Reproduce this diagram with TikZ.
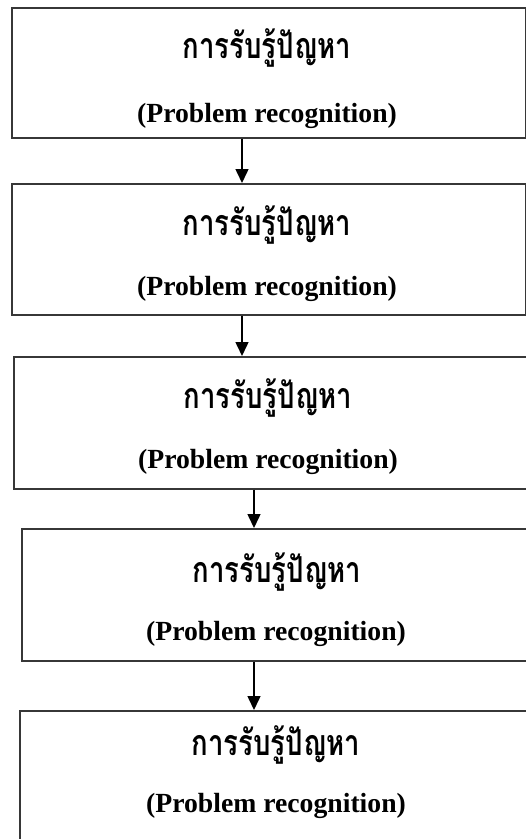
\documentclass[tikz,border=0pt]{standalone}
\usepackage{fontspec}
\setmainfont{Liberation Serif}
\newfontfamily\thaifont[Script=Thai]{Loma}
\usetikzlibrary{arrows.meta}
\newcommand{\thaiword}{\scalebox{1.0}[1.3]{การรับรู้ปัญหา}}
\tikzset{
  boxframe/.style={draw={rgb,255:red,55;green,55;blue,55}, line width=1.6pt, inner sep=0pt, anchor=north west},
  thaitext/.style={font=\thaifont\bfseries\fontsize{27.5}{30}\selectfont, anchor=base, inner sep=0pt},
  engtext/.style={font=\bfseries\fontsize{27.7}{30}\selectfont, anchor=base, inner sep=0pt},
  flowarrow/.style={draw=black, line width=1.5pt, -{Triangle[width=13pt,length=14pt]}}
}
\begin{document}
\begin{tikzpicture}[x=1pt,y=-1pt]
\useasboundingbox (0,0) rectangle (526,839);
% boxes
\node[boxframe, minimum width=514pt, minimum height=130pt] (b1) at (11,7) {};
\node[boxframe, minimum width=514pt, minimum height=131pt] (b2) at (11,183) {};
\node[boxframe, minimum width=517pt, minimum height=132pt] (b3) at (13,356) {};
\node[boxframe, minimum width=510pt, minimum height=132pt] (b4) at (21,528) {};
\node[boxframe, minimum width=514pt, minimum height=140pt] (b5) at (19,710) {};
% texts
\node[thaitext] (t1) at (267,58) {\thaiword};
\node[engtext] (e1) at (267,122) {(Problem recognition)};
\node[thaitext] (t2) at (267,235) {\thaiword};
\node[engtext] (e2) at (267,295) {(Problem recognition)};
\node[thaitext] (t3) at (268,408) {\thaiword};
\node[engtext] (e3) at (268,468) {(Problem recognition)};
\node[thaitext] (t4) at (277,582) {\thaiword};
\node[engtext] (e4) at (276,640) {(Problem recognition)};
\node[thaitext] (t5) at (276,755) {\thaiword};
\node[engtext] (e5) at (276,812) {(Problem recognition)};
% arrow columns
\coordinate (c1) at (242,0);
\coordinate (c2) at (242,0);
\coordinate (c3) at (254,0);
\coordinate (c4) at (254,0);
\draw[flowarrow] (b1.south -| c1) -- (b2.north -| c1);
\draw[flowarrow] (b2.south -| c2) -- (b3.north -| c2);
\draw[flowarrow] (b3.south -| c3) -- (b4.north -| c3);
\draw[flowarrow] (b4.south -| c4) -- (b5.north -| c4);
\end{tikzpicture}
\end{document}
